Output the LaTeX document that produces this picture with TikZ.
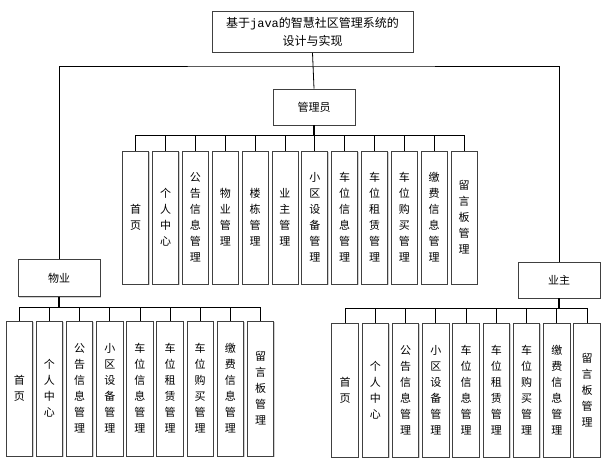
\documentclass[tikz,border=0pt]{standalone}
\usepackage{fontspec}
\newfontfamily\cjk{Noto Sans CJK SC}
\newfontfamily\monof{Liberation Mono}
\usetikzlibrary{shadows}
\begin{document}
\begin{tikzpicture}[x=1pt,y=-1pt,
  box/.style={draw=black!75, line width=0.8pt, fill=white, font=\cjk\fontsize{11}{16}\selectfont, align=center, inner sep=1pt,
    drop shadow={shadow xshift=1pt, shadow yshift=-1pt, fill=black!30, opacity=0.6}},
  leaf/.style={box, minimum width=26.5pt},
  conn/.style={draw=black, line width=0.8pt},
  trunk/.style={draw=black, line width=1.8pt}]
\useasboundingbox (0,0) rectangle (615,468);
% title and role boxes
\node[box, minimum width=201pt, minimum height=41pt, font=\cjk\fontsize{12}{18}\selectfont] (title) at (312.5,32) {基于{\monof java}的智慧社区管理系统的\\设计与实现};
\node[box, minimum width=82pt, minimum height=36pt] (admin) at (314,107) {管理员};
\node[box, minimum width=82pt, minimum height=37pt] (wy) at (59,278) {物业};
\node[box, minimum width=82pt, minimum height=36pt] (yz) at (559,280) {业主};
\coordinate (tb) at (313,66);
\draw[conn] (title.south) -- (admin.north);
\draw[conn] (wy.north) |- (tb) -| (yz.north);
% admin children
\coordinate (abus) at (314,135);
\foreach \t [count=\i] in {{首\\页},{个\\人\\中\\心},{公\\告\\信\\息\\管\\理},{物\\业\\管\\理},{楼\\栋\\管\\理},{业\\主\\管\\理},{小\\区\\设\\备\\管\\理},{车\\位\\信\\息\\管\\理},{车\\位\\租\\赁\\管\\理},{车\\位\\购\\买\\管\\理},{缴\\费\\信\\息\\管\\理},{留\\言\\板\\管\\理}}{
  \node[leaf, minimum width=26pt, minimum height=133pt] (a\i) at ({135.7+29.85*(\i-1)},217.5) {\t};
  \draw[conn] (a\i.north) |- (abus);
}
\draw[trunk] (admin.south) -- (abus);
% wuye children
\coordinate (wbus) at (59,307);
\foreach \t [count=\i] in {{首\\页},{个\\人\\中\\心},{公\\告\\信\\息\\管\\理},{小\\区\\设\\备\\管\\理},{车\\位\\信\\息\\管\\理},{车\\位\\租\\赁\\管\\理},{车\\位\\购\\买\\管\\理},{缴\\费\\信\\息\\管\\理},{留\\言\\板\\管\\理}}{
  \node[leaf, minimum height=135pt] (w\i) at ({19.3+30.15*(\i-1)},388.5) {\t};
  \draw[conn] (w\i.north) |- (wbus);
}
\draw[trunk] (wy.south) -- (wbus);
% yezhu children
\coordinate (ybus) at (559,308);
\foreach \t [count=\i] in {{首\\页},{个\\人\\中\\心},{公\\告\\信\\息\\管\\理},{小\\区\\设\\备\\管\\理},{车\\位\\信\\息\\管\\理},{车\\位\\租\\赁\\管\\理},{车\\位\\购\\买\\管\\理},{缴\\费\\信\\息\\管\\理},{留\\言\\板\\管\\理}}{
  \node[leaf, minimum height=134pt] (y\i) at ({345+30.25*(\i-1)},390) {\t};
  \draw[conn] (y\i.north) |- (ybus);
}
\draw[trunk] (yz.south) -- (ybus);
\end{tikzpicture}
\end{document}
